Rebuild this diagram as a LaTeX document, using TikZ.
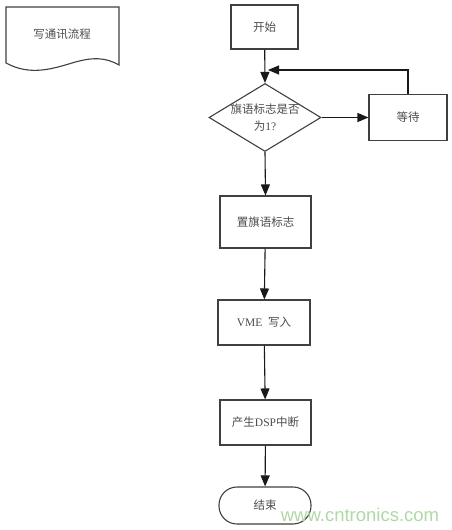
\documentclass[tikz,border=0pt]{standalone}
\usepackage{fontspec}
\setmainfont{Liberation Serif}
\newfontfamily\cjk{Noto Sans CJK SC}
\newfontfamily\wmfont{Liberation Sans}
\usetikzlibrary{arrows.meta,shapes.geometric}
\definecolor{wmgreen}{HTML}{AFD9A6}
\begin{document}
\begin{tikzpicture}[x=1pt,y=-1pt,
  box/.style={draw=black!75, line width=1.1pt, fill=white, inner sep=0pt,
    font=\fontsize{11.5}{14}\selectfont, text=black!70},
  conn/.style={draw=black!90, line width=1.1pt, -{Triangle[length=11pt,width=9pt]}},
]
\useasboundingbox[fill=white] (0,0) rectangle (452,530);

% document shape
\draw[draw=black!75, line width=1.1pt] (6,7) -- (119,7) -- (119,65)
  .. controls (105,57) and (92,57) .. (72,63)
  .. controls (52,69) and (30,76) .. (6,63) -- cycle;
\node[text=black!70, font=\fontsize{11.5}{14}\selectfont] (doc) at (62,34) {\cjk 写通讯流程};

% nodes
\node[box, minimum width=67pt, minimum height=44pt] (start) at (264.5,27) {\cjk 开始};
\node[box, diamond, minimum width=112pt, minimum height=68pt,
  label={[align=center, text=black!70, font=\fontsize{11.5}{17}\selectfont]center:{\cjk 旗语标志是否}\\{\cjk 为}1?}]
  (dia) at (265,117.5) {};
\node[box, minimum width=78pt, minimum height=46pt] (wait) at (408,117.5) {\cjk 等待};
\node[box, minimum width=91pt, minimum height=52pt] (setf) at (265.5,222) {\cjk 置旗语标志};
\node[box, minimum width=92pt, minimum height=45pt] (vme) at (264,322.5) {VME\ \ {\cjk 写入}};
\node[box, minimum width=91pt, minimum height=45pt] (dsp) at (265.5,422.5) {{\cjk 产生}DSP{\cjk 中断}};
\node[box, rounded corners=18pt, minimum width=92pt, minimum height=37pt] (end) at (265,505.5) {\cjk 结束};

\coordinate (mj) at (268,70);

% connectors
\draw[conn] (start) -- (dia.north);
\draw[conn] (dia.east) -- (wait.west);
\draw[conn] (wait.north) |- (mj);
\draw[conn] (dia.south) -- (setf.north);
\draw[conn] (setf) -- (vme);
\draw[conn] (vme) -- (dsp);
\draw[conn] (dsp) -- (end);

% watermark
\node[text=wmgreen, font=\wmfont\fontsize{18.5}{19}\selectfont] (wm) at (360,515) {www.cntronics.com};
\end{tikzpicture}
\end{document}
